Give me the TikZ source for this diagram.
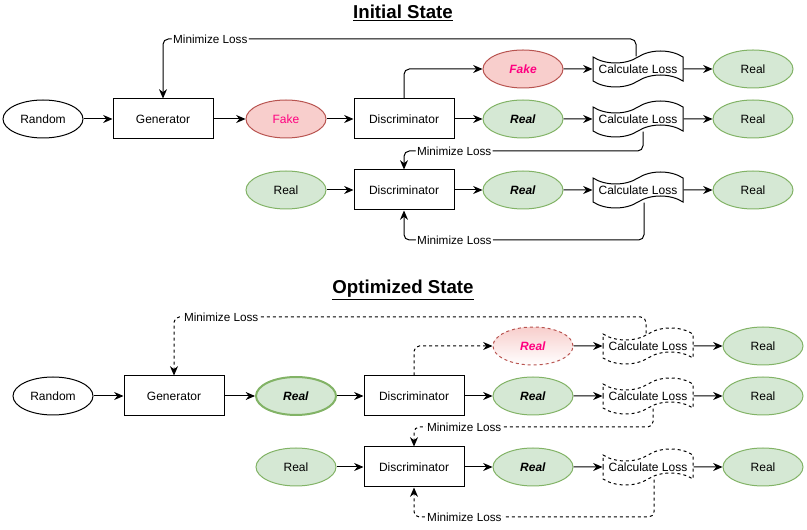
\documentclass[tikz,border=0pt]{standalone}
\usepackage{fontspec}
\setmainfont{Liberation Sans}
\usetikzlibrary{positioning, arrows.meta, shapes.geometric, shapes.symbols}

\definecolor{greenfill}{HTML}{D5E8D4}
\definecolor{greenline}{HTML}{82B366}
\definecolor{redfill}{HTML}{F8CECC}
\definecolor{redline}{HTML}{B85450}
\definecolor{fakepink}{HTML}{FF0080}

\begin{document}
\begin{tikzpicture}[
    x=0.75pt, y=-0.75pt,
    every node/.style={font=\fontsize{9}{11}\selectfont},
    box/.style={
        draw,
        minimum width=75pt,
        minimum height=30pt,
        line width=0.75pt
    },
    oval/.style={
        draw,
        ellipse,
        minimum width=60pt,
        minimum height=28.5pt,
        inner sep=0pt,
        line width=0.75pt
    },
    greenoval/.style={oval, draw=greenline, fill=greenfill},
    redoval/.style={oval, draw=redline, fill=redfill, text=fakepink},
    lossbox/.style={
        draw,
        tape,
        tape bend top=in and out,
        tape bend bottom=in and out,
        tape bend height=9pt,
        minimum width=67.5pt,
        minimum height=27pt,
        inner xsep=1pt,
        inner ysep=0pt,
        line width=0.75pt
    },
    arrow/.style={
        -{Stealth[length=7pt, width=6pt]},
        line width=0.75pt
    },
    loop/.style={arrow, rounded corners=4pt},
    dashline/.style={dash pattern=on 2.25pt off 2.25pt},
    lbl/.style={fill=white, inner sep=1pt, font=\fontsize{8.8}{10}\selectfont},
    title/.style={font=\fontsize{14}{16}\selectfont\bfseries}
]
\useasboundingbox (0,0) rectangle (807,530);

% Initial State
\node (titleA) at (403,13) [title] {\underline{Initial State}};

% Main Row
\node (rndA) at (43,119) [oval] {Random};
\node (genA) at (163,119) [box] {Generator};
\node (fakeA) at (286,119) [redoval] {Fake};
\node (discA) at (404,119) [box] {Discriminator};
\node (midRealA) at (523,119) [greenoval] {\textbf{\textit{Real}}};
\node (midCalcA) at (638,119) [lossbox] {Calculate Loss};
\node (midOutA) at (753,119) [greenoval] {Real};

% Top Row
\node (topFakeA) at (523,69) [redoval] {\textbf{\textit{Fake}}};
\node (topCalcA) at (638,69) [lossbox] {Calculate Loss};
\node (topOutA) at (753,69) [greenoval] {Real};

% Bottom Row
\node (botInA) at (286,190) [greenoval] {Real};
\node (botDiscA) at (404,190) [box] {Discriminator};
\node (botRealA) at (523,190) [greenoval] {\textbf{\textit{Real}}};
\node (botCalcA) at (638,190) [lossbox] {Calculate Loss};
\node (botOutA) at (753,190) [greenoval] {Real};

% Arrows
\draw [arrow] (rndA) -- (genA);
\draw [arrow] (genA) -- (fakeA);
\draw [arrow] (fakeA) -- (discA);
\draw [arrow] (discA) -- (midRealA);
\draw [arrow] (midRealA) -- (midCalcA);
\draw [arrow] (midCalcA) -- (midOutA);
\draw [loop] (discA.north) |- (topFakeA.west);
\draw [arrow] (topFakeA) -- (topCalcA);
\draw [arrow] (topCalcA) -- (topOutA);
\draw [arrow] (botInA) -- (botDiscA);
\draw [arrow] (botDiscA) -- (botRealA);
\draw [arrow] (botRealA) -- (botCalcA);
\draw [arrow] (botCalcA) -- (botOutA);

% Loss feedback
\draw [loop] ([xshift=-1.5pt]topCalcA.north) -- ([xshift=-1.5pt]topCalcA.north |- 0,39)
    -- node[lbl, pos=0.9] {Minimize Loss} (genA.north |- 0,39) -- (genA.north);
\draw [loop] ([xshift=3.75pt]midCalcA.south) -- ([xshift=3.75pt]midCalcA.south |- 0,151)
    -- node[lbl, pos=0.79] {Minimize Loss} (botDiscA.north |- 0,151) -- (botDiscA.north);
\draw [loop] ([xshift=4.5pt]botCalcA.south) -- ([xshift=4.5pt]botCalcA.south |- 0,240)
    -- node[lbl, pos=0.79] {Minimize Loss} (botDiscA.south |- 0,240) -- (botDiscA.south);

% Optimized State
\node (titleB) at (403,290) [title] {\underline{Optimized State}};

% Main Row
\node (rndB) at (53,396) [oval] {Random};
\node (genB) at (174,396) [box] {Generator};
\node (realB) at (296,396) [greenoval, line width=1.5pt] {\textbf{\textit{Real}}};
\node (discB) at (414,396) [box] {Discriminator};
\node (midRealB) at (533,396) [greenoval] {\textbf{\textit{Real}}};
\node (midCalcB) at (648,396) [lossbox, dashline] {Calculate Loss};
\node (midOutB) at (763,396) [greenoval] {Real};

% Top Row
\node (topRealB) at (533,346) [redoval, dashline, top color=redfill, bottom color=white] {\textbf{\textit{Real}}};
\node (topCalcB) at (648,346) [lossbox, dashline] {Calculate Loss};
\node (topOutB) at (763,346) [greenoval] {Real};

% Bottom Row
\node (botInB) at (296,467) [greenoval] {Real};
\node (botDiscB) at (414,467) [box] {Discriminator};
\node (botRealB) at (533,467) [greenoval] {\textbf{\textit{Real}}};
\node (botCalcB) at (648,467) [lossbox, dashline] {Calculate Loss};
\node (botOutB) at (763,467) [greenoval] {Real};

% Arrows
\draw [arrow] (rndB) -- (genB);
\draw [arrow] (genB) -- (realB);
\draw [arrow] (realB) -- (discB);
\draw [arrow] (discB) -- (midRealB);
\draw [arrow] (midRealB) -- (midCalcB);
\draw [arrow] (midCalcB) -- (midOutB);
\draw [loop, dashline] (discB.north) |- (topRealB.west);
\draw [arrow] (topRealB) -- (topCalcB);
\draw [arrow] (topCalcB) -- (topOutB);
\draw [arrow] (botInB) -- (botDiscB);
\draw [arrow] (botDiscB) -- (botRealB);
\draw [arrow] (botRealB) -- (botCalcB);
\draw [arrow] (botCalcB) -- (botOutB);

% Loss feedback
\draw [loop, dashline] ([xshift=-1.5pt]topCalcB.north) -- ([xshift=-1.5pt]topCalcB.north |- 0,317)
    -- node[lbl, pos=0.9] {Minimize Loss} (genB.north |- 0,317) -- (genB.north);
\draw [loop, dashline] ([xshift=3.75pt]midCalcB.south) -- ([xshift=3.75pt]midCalcB.south |- 0,427)
    -- node[lbl, pos=0.79] {Minimize Loss} (botDiscB.north |- 0,427) -- (botDiscB.north);
\draw [loop, dashline] ([xshift=4.5pt]botCalcB.south) -- ([xshift=4.5pt]botCalcB.south |- 0,517)
    -- node[lbl, pos=0.79] {Minimize Loss} (botDiscB.south |- 0,517) -- (botDiscB.south);

\end{tikzpicture}
\end{document}
